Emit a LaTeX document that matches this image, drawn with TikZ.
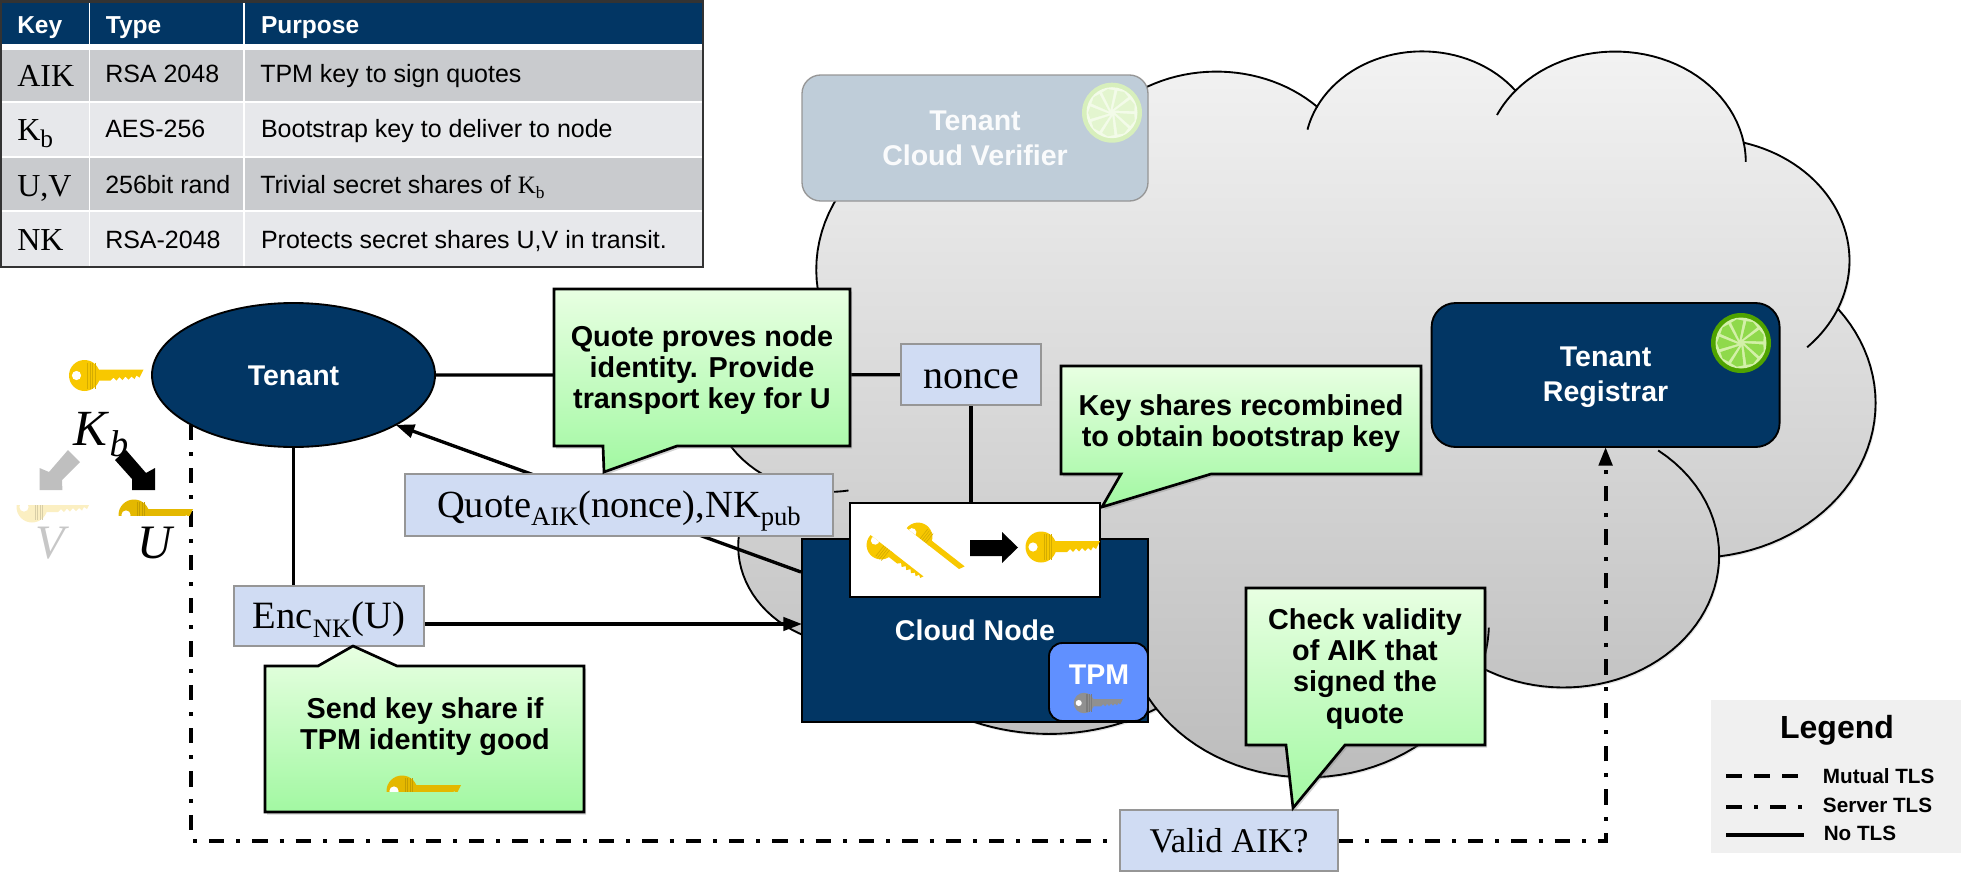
\documentclass[tikz,border=0pt]{standalone}
\usepackage{fontspec}
\setmainfont{Liberation Sans}
\newfontfamily\serf{Liberation Serif}
\usetikzlibrary{shapes.geometric,arrows.meta,shadows}
\pgfdeclarelayer{bg}
\pgfdeclarelayer{conn}
\pgfsetlayers{bg,conn,main}
\def\pxu{.75pt}
\definecolor{navy}{HTML}{023664}
\definecolor{boxblue}{HTML}{D0DCF3}
\definecolor{boxedge}{HTML}{969696}
\definecolor{tpmblue}{HTML}{6090FF}
\definecolor{keygold}{HTML}{F8C800}
\definecolor{keyfade}{HTML}{FBEFC2}
\definecolor{keygray}{HTML}{909090}
\definecolor{verif}{HTML}{BFCDD9}
\definecolor{rowa}{HTML}{C9CBCE}
\definecolor{rowb}{HTML}{E7E8EB}
\definecolor{gtop}{HTML}{E8FFE2}
\definecolor{gbot}{HTML}{A2F8A2}
\definecolor{limeaa}{HTML}{D7EFBC}
\definecolor{limeab}{HTML}{F3FBE9}
\definecolor{limeac}{HTML}{E3F5CF}
\definecolor{limeba}{HTML}{4FA300}
\definecolor{limebb}{HTML}{D3F0A8}
\definecolor{limebc}{HTML}{8FD94B}
\newcommand\lowsub[2]{\raisebox{-.22em}{\fontsize{#1}{#1}\selectfont #2}}
% text whose baseline sits #1 below the centre of its box
\newcommand\boxtext[2]{\smash{\raisebox{-#1}{#2}}}
\newcommand\keydraw[1]{%
  \fill[#1] (0,0) circle[radius=15.5*\pxu];
  \fill[#1] (13,-6) -- (59,-6) -- (55,2) -- (52,0) -- (50,3.5) -- (47,1) -- (44,4) -- (41,1) -- (38,4.5) -- (35,1.5) -- (32,5) -- (29,2) -- (26,5) -- (13,5) -- cycle;
  \foreach \sx in {3,5.5,8,10.5}{\draw[black!14!#1,line width=.5pt] (\sx,-13) -- (\sx,13);}
  \fill[white] (-8,0) circle[radius=4.6*\pxu];
}
% cloud outline: eleven elliptical arcs
\newcommand\cloudarc[6]{%
  \pgfmathsetmacro\tone{atan2(#1*sin(#3),#2*cos(#3))}%
  \pgfmathsetmacro\ttwob{atan2(#1*sin(#3+#4),#2*cos(#3+#4))}%
  \pgfmathsetmacro\ttwo{(\ttwob<\tone) ? \ttwob+360 : \ttwob}%
  \pgfmathsetmacro\ccx{\curx-#1*cos(\tone)}%
  \pgfmathsetmacro\ccy{\cury-#2*sin(\tone)}%
  \pgfmathsetmacro\prea{\tone-#5}%
  \pgfmathsetmacro\postb{\ttwo+#6}%
  \edef\tmpa{ -- plot[domain=\tone:\ttwo,samples=36,variable=\noexpand\tv]
     ({713+2.69*(\ccx+#1*cos(\noexpand\tv))},{49+1.68*(\ccy+#2*sin(\noexpand\tv))})}%
  \xdef\cloudpath{\unexpanded\expandafter{\cloudpath}\unexpanded\expandafter{\tmpa}}%
  \edef\tmpb{\noexpand\draw[line width=1.4pt] plot[domain=\prea:\tone,samples=14,variable=\noexpand\tv]
     ({713+2.69*(\ccx+#1*cos(\noexpand\tv))},{49+1.68*(\ccy+#2*sin(\noexpand\tv))});
     \noexpand\draw[line width=1.4pt] plot[domain=\ttwo:\postb,samples=14,variable=\noexpand\tv]
     ({713+2.69*(\ccx+#1*cos(\noexpand\tv))},{49+1.68*(\ccy+#2*sin(\noexpand\tv))});}%
  \xdef\cloudstubs{\unexpanded\expandafter{\cloudstubs}\unexpanded\expandafter{\tmpb}}%
  \pgfmathsetmacro\nx{\ccx+#1*cos(\ttwo)}\global\let\curx\nx
  \pgfmathsetmacro\ny{\ccy+#2*sin(\ttwo)}\global\let\cury\ny
}
\tikzset{
  x=.75pt,y=-.75pt,
  sol/.style={line width=2.5pt,black},
  tlsline/.style={line width=3pt,black,dash pattern=on 11.5pt off 9pt on 3pt off 9pt},
  tip/.style={-{Triangle[length=14pt,width=10pt]}},
  headtxt/.style={font=\fontsize{18.4}{20}\selectfont\bfseries,text=white,anchor=base west,inner sep=0},
  celltxt/.style={font=\fontsize{18.75}{20}\selectfont,anchor=base west,inner sep=0},
  keytxt/.style={font=\serf\fontsize{24}{26}\selectfont,anchor=base west,inner sep=0},
  white label/.style={font=\fontsize{21.4}{26.5}\selectfont\bfseries,text=white,align=center,inner sep=0},
  calltxt/.style={font=\fontsize{21.6}{23.3}\selectfont\bfseries,align=center,inner sep=0},
  legtxt/.style={font=\fontsize{15.5}{17}\selectfont\bfseries,anchor=west,inner sep=0},
  msgbox/.style={draw=boxedge,line width=1.5pt,fill=boxblue,inner sep=0,outer sep=0,font=\serf},
  navybox/.style={draw=black,line width=1.6pt,fill=navy,inner sep=0,outer sep=0},
  callout/.style={draw=black,line width=2pt,top color=gtop,bottom color=gbot,
     drop shadow={shadow xshift=1.5pt,shadow yshift=-2pt,opacity=.35}},
  pics/keyfull/.style={code={\keydraw{#1}}},
  pics/keytop/.style={code={\begin{scope}\clip (-17,-17) rectangle (60,0);\keydraw{#1}\end{scope}}},
  pics/keybot/.style={code={\begin{scope}\clip (-17,-1.5) rectangle (60,17);\keydraw{#1}\end{scope}}},
  pics/lime/.style n args={3}{code={
     \fill[#1] (0,0) circle[radius=30*\pxu];
     \fill[#2] (0,0) circle[radius=25.5*\pxu];
     \foreach \a in {0,40,...,320}{\fill[#3] (\a+4:3.5) -- (\a+4:22.5) -- (\a+20:24) -- (\a+36:22.5) -- cycle;}
  }},
}
\begin{document}
\begin{tikzpicture}
\useasboundingbox (0,0) rectangle (1961,885);
% ---------- cloud
\gdef\curx{39}\gdef\cury{143.7}
\gdef\cloudpath{(817.9,290.4)}\gdef\cloudstubs{}
\cloudarc{67.53}{91.90}{-190.4875}{123.7805}{0}{0}
\cloudarc{53.33}{72.67}{-144.1024}{89.9452}{0}{0}
\cloudarc{43.65}{59.45}{-145.8079}{99.7230}{14}{0}
\cloudarc{48.57}{65.95}{-130.9861}{117.2417}{15}{10}
\cloudarc{53.33}{72.73}{-78.7089}{109.0269}{0}{22}
\cloudarc{67.75}{92.20}{-46.2673}{130.2690}{0}{0}
\cloudarc{57.85}{78.67}{0.6250}{114.0333}{53}{0}
\cloudarc{67.52}{92.15}{22.4516}{115.1726}{15}{5}
\cloudarc{77.20}{105.43}{66.2426}{75.7110}{0}{0}
\cloudarc{43.60}{59.18}{-274.9421}{146.7356}{0}{0}
\cloudarc{43.45}{59.45}{-246.8285}{156.7632}{40}{0}
\begin{pgfonlayer}{bg}
\path[draw=black,line width=1.4pt,top color=black!5,bottom color=black!26,
      drop shadow={shadow xshift=1pt,shadow yshift=-1.5pt,opacity=.22}]
  \cloudpath -- cycle;
\cloudstubs
\end{pgfonlayer}
% ---------- main nodes
\node[ellipse,navybox,line width=1.4pt,minimum width=283*\pxu,minimum height=144*\pxu] (tenant) at (293.5,375) {};
\node[msgbox,minimum width=140*\pxu,minimum height=61*\pxu,font=\serf\fontsize{30}{32}\selectfont] (nonce) at (971,374.7) {\boxtext{10.5pt}{nonce}};
\node[msgbox,minimum width=190*\pxu,minimum height=60*\pxu,font=\serf\fontsize{29}{31}\selectfont] (enc) at (329,616) {\boxtext{9.5pt}{Enc\lowsub{20}{NK}(U)}};
\node[msgbox,minimum width=428*\pxu,minimum height=62*\pxu,font=\serf\fontsize{28.8}{31}\selectfont] (quote) at (619,505) {\boxtext{9pt}{Quote\lowsub{20}{AIK}(nonce),NK\lowsub{20}{pub}}};
\node[msgbox,minimum width=218*\pxu,minimum height=61*\pxu,font=\serf\fontsize{26}{28}\selectfont] (valid) at (1229,840.5) {\boxtext{9pt}{Valid AIK?}};
\node[navybox,minimum width=346*\pxu,minimum height=183*\pxu] (cloudnode) at (975,630.5) {};
\node[draw=black,line width=1.8pt,fill=white,inner sep=0,outer sep=0,minimum width=250*\pxu,minimum height=94*\pxu] (recomb) at (975,550) {};
\node[draw=boxedge,line width=1pt,fill=verif,rounded corners=14pt,inner sep=0,outer sep=0,minimum width=346*\pxu,minimum height=126*\pxu] (verifier) at (975,138) {};
\node[navybox,line width=1.4pt,rounded corners=18pt,minimum width=348*\pxu,minimum height=144*\pxu] (registrar) at (1605.6,375) {};
\node[draw=black,line width=1.4pt,fill=tpmblue,rounded corners=10pt,inner sep=0,outer sep=0,minimum width=99*\pxu,minimum height=78*\pxu] (tpm) at (1098.5,682) {};
% ---------- connectors (behind the boxes)
\coordinate (nodeq) at (801,572);
\coordinate (enclevel) at (0,624);
\begin{pgfonlayer}{conn}
\draw[sol] (tenant.east) -- (nonce.west);
\draw[sol] (nonce.south) -- (nonce.south|-recomb.north);
\draw[sol] (tenant.south) -- (tenant.south|-enc.north);
\draw[sol,tip] (enc.east|-enclevel) -- (cloudnode.west|-enclevel);
\draw[sol,tip] (nodeq) -- (tenant.-26.4);
\draw[tlsline] (tenant.206.4) |- (valid.west);
\draw[tlsline,tip] (valid.east) -| (registrar.south);
\end{pgfonlayer}
% ---------- callouts
\path[callout] (554,289) -- (850,289) -- (850,446) -- (677,446) -- (604,472) -- (603,446) -- (554,446) -- cycle;
\node[calltxt] (c1) at (702,370) {Quote proves node\\identity. Provide\\transport key for U};
\path[callout] (1061,366) -- (1421,366) -- (1421,474) -- (1211,474) -- (1102,507) -- (1121,474) -- (1061,474) -- cycle;
\node[calltxt] (c2) at (1241,424) {Key shares recombined\\to obtain bootstrap key};
\path[callout] (1246,588) -- (1485,588) -- (1485,745) -- (1345,745) -- (1293,808) -- (1286,745) -- (1246,745) -- cycle;
\node[calltxt] (c3) at (1365,669) {Check validity\\of AIK that\\signed the\\quote};
\path[callout] (265,666) -- (318,666) -- (353,646) -- (397,666) -- (584,666) -- (584,812) -- (265,812) -- cycle;
\node[calltxt] (c4) at (425,727) {Send key share if\\TPM identity good};
\pic at (402,791) {keytop=keygold!92!black};
% ---------- labels in boxes
\node[white label] (tenantlabel) at (293.5,376) {Tenant};
\node[white label,text=white!92!verif] (veriflabel) at (975,138.5) {Tenant\\Cloud Verifier};
\node[white label] (reglabel) at (1605.6,377) {Tenant\\Registrar};
\node[white label] (nodelabel) at (975,630) {Cloud Node};
\node[white label] (tpmlabel) at (1099,675) {TPM};
\pic at (1112,112.7) {lime={limeaa}{limeab}{limeac}};
\pic at (1741,343) {lime={limeba}{limebb}{limebc}};
\pic[scale=.66] at (1084,703) {keyfull=keygray};
% ---------- recombination picture
\pic[rotate=-38,scale=.93] at (881,545) {keybot=keygold};
\pic[rotate=-38,scale=.93] at (918,537) {keytop=keygold};
\fill (970,540) -- (1002,540) -- (1002,532) -- (1018,547.5) -- (1002,563) -- (1002,556) -- (970,556) -- cycle;
\pic at (1041,547) {keyfull=keygold};
% ---------- key split at the tenant
\pic at (84.5,375.5) {keyfull=keygold};
\node[inner sep=0,font=\serf\itshape\fontsize{38}{40}\selectfont] (kb) at (101,435) {K\lowsub{28}{\hspace{.06em}b}};
\fill[black!25] (68,450) -- (80,462) -- (62,480) -- (62.4,490) -- (39.5,490) -- (39.5,468) -- (49,472) -- cycle;
\fill[black] (126,450) -- (115,460) -- (132,479) -- (132,490) -- (155,490) -- (155,468) -- (146,473) -- cycle;
\pic at (32,507) {keybot=keyfade};
\pic at (134,515) {keytop=keygold!92!black};
\node[inner sep=0,text=black!22,font=\serf\itshape\fontsize{36}{38}\selectfont] (vlabel) at (50,543) {V};
\node[inner sep=0,font=\serf\itshape\fontsize{36}{38}\selectfont] (ulabel) at (155,543) {U};
% ---------- table
\fill[navy] (0,2) rectangle (703,44);
\fill[rowa] (0,50) rectangle (703,101);
\fill[rowb] (0,103) rectangle (703,156);
\fill[rowa] (0,158) rectangle (703,210);
\fill[rowb] (0,212) rectangle (703,266);
\draw[white,line width=1.4pt] (89.5,2) -- (89.5,266);
\draw[white,line width=1.4pt] (244,2) -- (244,266);
\draw[black!80,line width=1.8pt] (1,1.5) rectangle (703,267);
\node[headtxt] (h1) at (17,33) {Key};
\node[headtxt] (h2) at (105.6,33) {Type};
\node[headtxt] (h3) at (260.8,33) {Purpose};
\node[keytxt] (k1) at (17,86) {AIK};
\node[celltxt] (t1) at (105,82) {RSA 2048};
\node[celltxt] (p1) at (260,82) {TPM key to sign quotes};
\node[keytxt] (k2) at (17,140) {K\lowsub{19}{b}};
\node[celltxt] (t2) at (105,137) {AES-256};
\node[celltxt] (p2) at (260.8,137) {Bootstrap key to deliver to node};
\node[keytxt] (k3) at (17,196) {U,V};
\node[celltxt] (t3) at (105,193) {256bit rand};
\node[celltxt] (p3) at (260,193) {Trivial secret shares of {\serf K\lowsub{13}{b}}};
\node[keytxt] (k4) at (17,250.7) {NK};
\node[celltxt] (t4) at (105,248) {RSA-2048};
\node[celltxt] (p4) at (260.8,248) {Protects secret shares U,V in transit.};
% ---------- legend
\fill[black!6] (1711,700) rectangle (1961,853);
\node[inner sep=0,font=\fontsize{24}{26}\selectfont\bfseries] (legend) at (1837,730) {Legend};
\coordinate (m1) at (1726,776); \coordinate (m2) at (1804,776);
\coordinate (s1) at (1726,807); \coordinate (s2) at (1804,807);
\coordinate (n1) at (1726,835); \coordinate (n2) at (1804,835);
\draw[line width=3pt,dash pattern=on 12pt off 9pt] (m1) -- (m2);
\draw[line width=3pt,dash pattern=on 12pt off 9pt on 3pt off 9pt] (s1) -- (s2);
\draw[line width=3pt] (n1) -- (n2);
\node[legtxt] (l1) at (1822.7,776) {Mutual TLS};
\node[legtxt] (l2) at (1822.7,805) {Server TLS};
\node[legtxt] (l3) at (1823.5,833) {No TLS};
\end{tikzpicture}
\end{document}
